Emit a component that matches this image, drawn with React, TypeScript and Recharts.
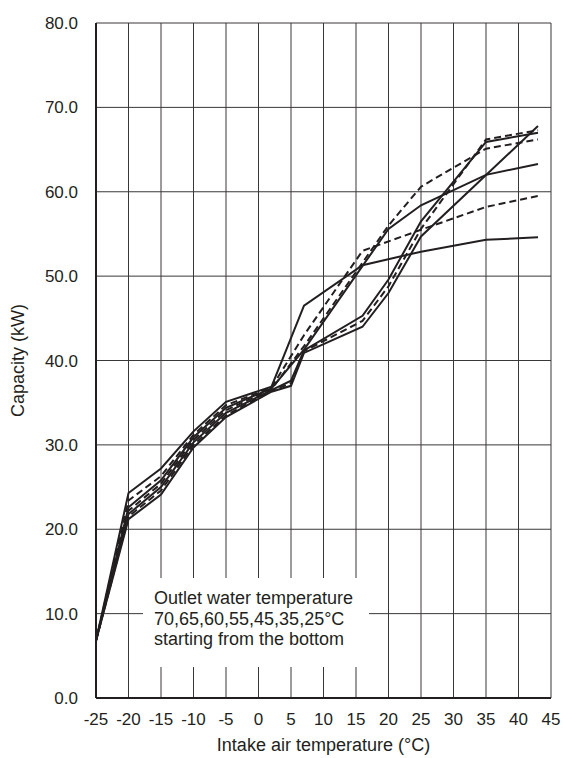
import React from 'react';
import {
  LineChart,
  Line,
  XAxis,
  YAxis,
  CartesianGrid,
  Label,
} from 'recharts';

// intake air temperature (°C) where the curves have their corners
const airTemps = [-25, -20, -15, -10, -5, 2, 5, 7, 16, 20, 25, 35, 43];

// capacity (kW) per outlet water temperature, null = no corner at that temp
const cap70 = [6.8, 24.3, 27.2, 31.6, 35.1, 36.9, null, 46.5, 51.3, null, 52.9, 54.3, 54.6];
const cap65 = [6.8, 23.4, 26.3, 31.2, 34.7, 36.8, null, 43.0, 53.0, null, 55.5, 58.2, 59.5];
const cap60 = [6.8, 22.6, 25.8, 30.9, 34.4, 36.7, null, 41.3, null, 55.6, 58.4, 62.0, 63.3];
const cap55 = [6.8, 22.2, 25.4, 30.6, 34.1, 36.6, null, 41.7, null, 56.0, 60.6, 65.1, 66.2];
const cap45 = [6.8, 21.8, 25.0, 30.3, 33.8, 36.5, 37.6, 41.2, 45.3, 49.6, 56.5, 65.9, 67.0];
const cap35 = [6.8, 21.5, 24.6, 30.0, 33.5, 36.4, 37.3, 41.1, 44.7, 48.8, 55.6, 66.2, 67.3];
const cap25 = [6.8, 21.2, 24.1, 29.7, 33.3, 36.3, 37.0, 40.9, 44.0, 48.0, 54.7, null, 67.8];

const xTicks = [-25, -20, -15, -10, -5, 0, 5, 10, 15, 20, 25, 30, 35, 40, 45];
const yTicks = [0, 10, 20, 30, 40, 50, 60, 70, 80];

const noteLines = [
  'Outlet water temperature',
  '70,65,60,55,45,35,25°C',
  'starting from the bottom',
];

const series = [
  { key: 'w70', values: cap70, dashed: false },
  { key: 'w65', values: cap65, dashed: true },
  { key: 'w60', values: cap60, dashed: false },
  { key: 'w55', values: cap55, dashed: true },
  { key: 'w45', values: cap45, dashed: false },
  { key: 'w35', values: cap35, dashed: true },
  { key: 'w25', values: cap25, dashed: false },
];

const rows = airTemps.map((t, i) => {
  const row: Record<string, number | null> = { t };
  series.forEach((s) => {
    row[s.key] = s.values[i];
  });
  return row;
});

const INK = '#231f20';
const FONT = '"Liberation Sans", Arial, sans-serif';

export default function App() {
  return (
    <div style={{ position: 'absolute', left: 0, top: 0, width: 563, height: 758, background: '#fff', fontFamily: FONT }}>
      <LineChart
        width={563}
        height={758}
        data={rows}
        margin={{ top: 23, right: 12, bottom: 0, left: 0 }}
      >
        <CartesianGrid stroke="#3a3737" strokeWidth={1} />
        <XAxis
          dataKey="t"
          type="number"
          domain={[-25, 45]}
          ticks={xTicks}
          interval={0}
          height={60}
          tickLine={false}
          tickMargin={9}
          axisLine={{ stroke: INK, strokeWidth: 2 }}
          tick={{ fontSize: 17, fill: INK, fontFamily: FONT }}
        >
          <Label
            value="Intake air temperature (°C)"
            position="insideBottom"
            offset={7}
            style={{ fontSize: 18, fill: INK, fontFamily: FONT }}
          />
        </XAxis>
        <XAxis
          xAxisId="top"
          orientation="top"
          type="number"
          domain={[-25, 45]}
          height={0}
          tick={false}
          tickLine={false}
          axisLine={{ stroke: INK, strokeWidth: 2 }}
        />
        <YAxis
          type="number"
          domain={[0, 80]}
          ticks={yTicks}
          interval={0}
          width={96}
          tickLine={false}
          tickMargin={12}
          axisLine={{ stroke: INK, strokeWidth: 2 }}
          tickFormatter={(v: number) => v.toFixed(1)}
          tick={{ fontSize: 17, fill: INK, fontFamily: FONT }}
        >
          <Label
            value="Capacity (kW)"
            position="center"
            angle={-90}
            dx={-30}
            style={{ fontSize: 18, fill: INK, fontFamily: FONT, textAnchor: 'middle' }}
          />
        </YAxis>
        <YAxis
          yAxisId="right"
          orientation="right"
          type="number"
          domain={[0, 80]}
          width={0}
          tick={false}
          tickLine={false}
          axisLine={{ stroke: INK, strokeWidth: 2 }}
        />
        {series.map((s) => (
          <Line
            key={s.key}
            dataKey={s.key}
            type="linear"
            stroke={INK}
            strokeWidth={2}
            strokeDasharray={s.dashed ? '7 4' : undefined}
            dot={false}
            activeDot={false}
            connectNulls
            isAnimationActive={false}
          />
        ))}
      </LineChart>
      <div
        style={{
          position: 'absolute',
          left: 143,
          top: 578,
          width: 226,
          height: 89,
          background: '#fff',
          boxSizing: 'border-box',
          paddingTop: 10,
          paddingLeft: 11,
          fontSize: 18,
          lineHeight: '20.5px',
          color: INK,
          whiteSpace: 'nowrap',
        }}
      >
        {noteLines.map((l) => (
          <div key={l}>{l}</div>
        ))}
      </div>
    </div>
  );
}
